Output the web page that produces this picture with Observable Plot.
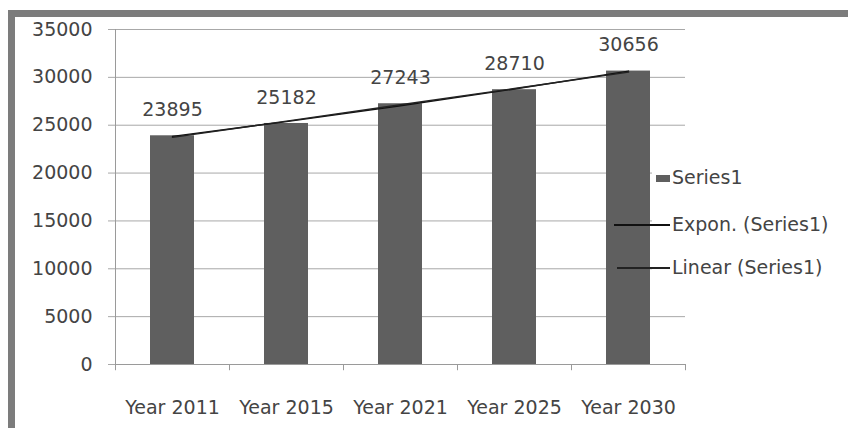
<!DOCTYPE html>
<html>
<head>
<meta charset="utf-8">
<script src="https://cdn.jsdelivr.net/npm/d3@7"></script>
<script src="https://cdn.jsdelivr.net/npm/@observablehq/plot@0.6"></script>
<style>
  html, body { margin: 0; padding: 0; background: #ffffff; overflow: hidden; }
  #wrap { position: relative; width: 848px; height: 428px; font-family: "DejaVu Sans", sans-serif; color: #444; }
  #frame { position: absolute; left: 8px; top: 10px; width: 880px; height: 460px; border: 7px solid #7c7c7c; box-sizing: border-box; pointer-events: none; }
  #legend { position: absolute; left: 652px; top: 150px; width: 196px; height: 140px; background: #ffffff; }
  .lg { position: absolute; font-size: 19px; line-height: 22px; white-space: nowrap; color: #444; }
  .mk { position: absolute; }
</style>
</head>
<body>
<div id="wrap"><div id="frame"></div></div>
<script>
const categories = ["Year 2011", "Year 2015", "Year 2021", "Year 2025", "Year 2030"];
const values = [23895, 25182, 27243, 28710, 30656];
const yTicks = [0, 5000, 10000, 15000, 20000, 25000, 30000, 35000];
const legendLabels = ["Series1", "Expon. (Series1)", "Linear (Series1)"];

const data = categories.map((c, i) => ({cat: c, v: values[i]}));

// Trend lines fitted to the series (Excel-style, x = 1..n)
const n = values.length;
const xs = values.map((_, i) => i + 1);
function fit(ys) {
  const mx = d3.mean(xs), my = d3.mean(ys);
  const b = d3.sum(xs, (x, i) => (x - mx) * (ys[i] - my)) / d3.sum(xs, x => (x - mx) ** 2);
  return {a: my - b * mx, b};
}
const lin = fit(values);
const ex = fit(values.map(Math.log));
const linear = categories.map((c, i) => ({cat: c, v: lin.a + lin.b * xs[i]}));
const expon = categories.map((c, i) => ({cat: c, v: Math.exp(ex.a + ex.b * xs[i])}));

const chart = Plot.plot({
  width: 848,
  height: 428,
  marginLeft: 115,
  marginRight: 163,
  marginTop: 29,
  marginBottom: 64,
  style: {fontFamily: "DejaVu Sans, sans-serif", fontSize: "19px", color: "#444", background: "transparent"},
  x: {type: "band", domain: categories, paddingInner: 0.61, paddingOuter: 0.305},
  y: {domain: [0, 35000]},
  marks: [
    Plot.gridY(yTicks, {stroke: "#a8a8a8", strokeOpacity: 1}),
    Plot.frame({anchor: "left", stroke: "#9a9a9a"}),
    Plot.barY(data, {x: "cat", y: "v", fill: "#5f5f5f"}),
    Plot.ruleY([0], {stroke: "#9a9a9a"}),
    Plot.ruleX(categories, {x: d => d, y1: 0, y2: -650, dx: -57, stroke: "#9a9a9a"}),
    Plot.ruleX(categories.slice(-1), {x: d => d, y1: 0, y2: -650, dx: 57, stroke: "#9a9a9a"}),
    Plot.line(expon, {x: "cat", y: "v", stroke: "#111", strokeWidth: 1.4}),
    Plot.line(linear, {x: "cat", y: "v", stroke: "#222", strokeWidth: 1.4}),
    Plot.text(data, {x: "cat", y: "v", text: d => String(d.v), dy: -26, fontSize: 19, fill: "#444"}),
    Plot.axisY({ticks: yTicks, tickSize: 7, tickPadding: 16, stroke: "#a8a8a8", fill: "#444", fontSize: 19, tickFormat: d => String(d), label: null}),
    Plot.axisX({tickSize: 0, tickPadding: 36, fill: "#444", fontSize: 19, label: null})
  ]
});

const wrap = document.getElementById("wrap");
wrap.insertBefore(chart, wrap.firstChild);

// Legend
const legend = document.createElement("div");
legend.id = "legend";
wrap.insertBefore(legend, document.getElementById("frame"));
const rowsY = [178, 225, 268];
const markers = [
  {left: 656, width: 14, height: 7, bg: "#5f5f5f"},
  {left: 614, width: 56, height: 2, bg: "#111"},
  {left: 617, width: 53, height: 2, bg: "#222"}
];
legendLabels.forEach((lab, i) => {
  const m = document.createElement("div");
  m.className = "mk";
  m.style.left = markers[i].left + "px";
  m.style.top = (rowsY[i] - markers[i].height / 2) + "px";
  m.style.width = markers[i].width + "px";
  m.style.height = markers[i].height + "px";
  m.style.background = markers[i].bg;
  wrap.insertBefore(m, document.getElementById("frame"));
  const t = document.createElement("div");
  t.className = "lg";
  t.textContent = lab;
  t.style.left = "672px";
  t.style.top = (rowsY[i] - 12) + "px";
  wrap.insertBefore(t, document.getElementById("frame"));
});
</script>
</body>
</html>
